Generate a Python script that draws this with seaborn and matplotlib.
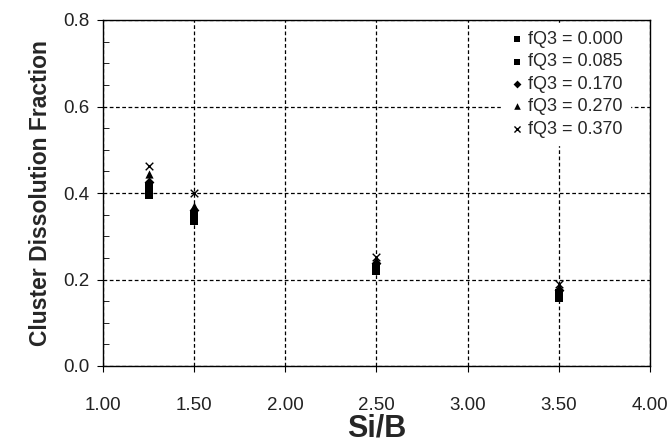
import matplotlib
matplotlib.use("Agg")
import matplotlib.pyplot as plt
import seaborn as sns
import pandas as pd
from matplotlib.ticker import MultipleLocator

si_b = [1.25, 1.50, 2.50, 3.50]
series_labels = ["fQ3 = 0.000", "fQ3 = 0.085", "fQ3 = 0.170", "fQ3 = 0.270", "fQ3 = 0.370"]
fq3_000 = [0.395, 0.335, 0.220, 0.158]
fq3_085 = [0.415, 0.350, 0.230, 0.168]
fq3_170 = [0.425, 0.360, 0.237, 0.175]
fq3_270 = [0.445, 0.370, 0.245, 0.183]
fq3_370 = [0.462, 0.400, 0.252, 0.190]
all_series = [fq3_000, fq3_085, fq3_170, fq3_270, fq3_370]

rows = []
for lab, vals in zip(series_labels, all_series):
    for x, y in zip(si_b, vals):
        rows.append({"Si/B": x, "frac": y, "series": lab})
df = pd.DataFrame(rows)

sns.set_style("ticks")
plt.rcParams['font.family'] = ['Liberation Sans', 'DejaVu Sans']

fig = plt.figure(figsize=(6.70, 4.47), dpi=100)
ax = fig.add_axes([103/670, 1 - 366/447, (650-103)/670, (366-20)/447])

markers = {series_labels[0]: "s", series_labels[1]: "s", series_labels[2]: "D",
           series_labels[3]: "^", series_labels[4]: "x"}
sizes_map = {series_labels[0]: 30, series_labels[1]: 30, series_labels[2]: 25,
             series_labels[3]: 35, series_labels[4]: 30}
for lab in series_labels:
    sub = df[df["series"] == lab]
    sns.scatterplot(data=sub, x="Si/B", y="frac", marker=markers[lab], color="black",
                    s=sizes_map[lab], linewidth=1 if lab == series_labels[4] else 0,
                    label=lab, ax=ax, zorder=3)

ax.set_xlim(1.0, 4.0)
ax.set_ylim(0.0, 0.8)
ax.set_xticks([1.0, 1.5, 2.0, 2.5, 3.0, 3.5, 4.0])
ax.set_xticklabels([f"{v:.2f}" for v in [1.0, 1.5, 2.0, 2.5, 3.0, 3.5, 4.0]])
ax.set_yticks([0.0, 0.2, 0.4, 0.6, 0.8])
ax.set_yticklabels([f"{v:.1f}" for v in [0.0, 0.2, 0.4, 0.6, 0.8]])
ax.yaxis.set_minor_locator(MultipleLocator(0.05))
ax.tick_params(axis='both', which='major', labelsize=13.5, direction='out', length=4,
               color='black', labelcolor='#222222')
ax.tick_params(axis='x', which='major', pad=18)
ax.tick_params(axis='y', which='major', pad=6)
ax.tick_params(axis='y', which='minor', direction='in', length=4, color='black')
ax.grid(True, which='major', color='black', linestyle=(0, (3, 2)), linewidth=0.9)
for sp in ax.spines.values():
    sp.set_color('black')
    sp.set_linewidth(1.0)
    sp.set_visible(True)

ax.set_xlabel("Si/B", fontsize=22, fontweight='bold', labelpad=0)
ax.set_ylabel("Cluster Dissolution Fraction", fontsize=16.5, fontweight='bold', labelpad=8)

leg = ax.legend(loc='upper right', frameon=True, fontsize=13, handletextpad=0.1,
                borderaxespad=0.2, labelspacing=0.3, handlelength=1.0, markerscale=0.8,
                bbox_to_anchor=(0.97, 1.0))
leg.get_frame().set_facecolor('white')
leg.get_frame().set_edgecolor('white')
leg.get_frame().set_alpha(1.0)

fig.savefig("out.png", dpi=100)
